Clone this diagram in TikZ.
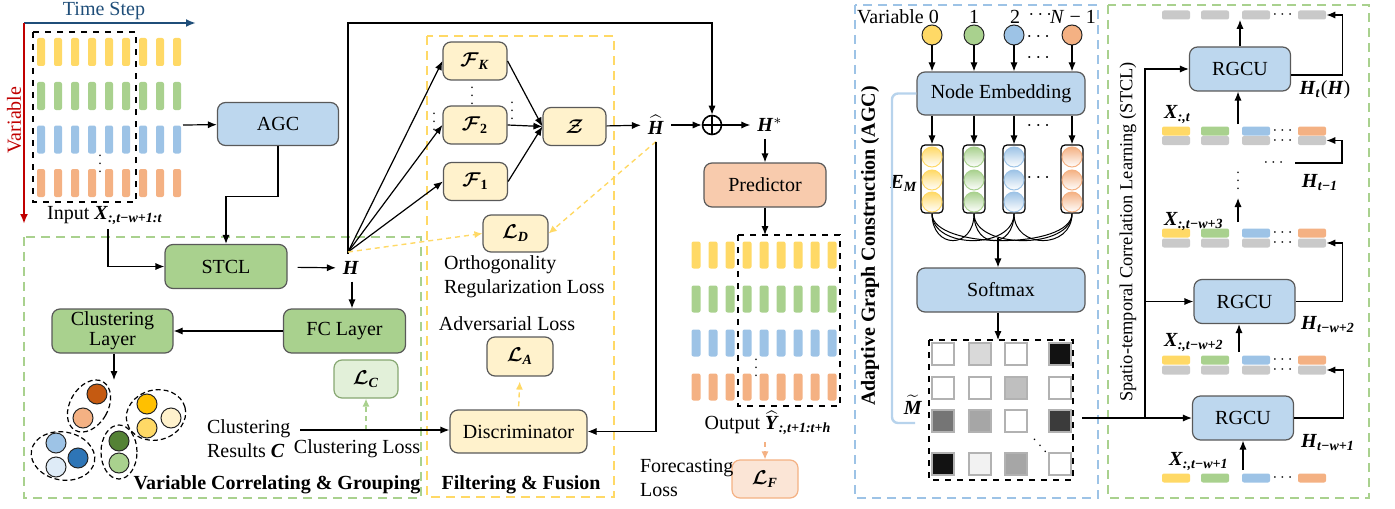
\documentclass[tikz,border=0pt]{standalone}
\usepackage{fontspec}
\setmainfont{Liberation Serif}
\usepackage{amsmath,bm}
\usetikzlibrary{arrows.meta}

\definecolor{ylw}{HTML}{FFD966}
\definecolor{grn}{HTML}{A9D18E}
\definecolor{blu}{HTML}{9DC3E6}
\definecolor{org}{HTML}{F4B183}
\definecolor{gry}{HTML}{C9C9C9}
\definecolor{agcfill}{HTML}{BDD7EE}
\definecolor{ffill}{HTML}{FFF2CC}
\definecolor{predfill}{HTML}{F8CBAD}
\definecolor{lcfill}{HTML}{E2F0D9}
\definecolor{lffill}{HTML}{FBE5D6}
\definecolor{bordr}{HTML}{595959}
\definecolor{tsblue}{HTML}{1F4E79}
\definecolor{varred}{HTML}{C00000}
\newcommand{\bi}[1]{\textbf{\textit{#1}}}

\begin{document}
\begin{tikzpicture}[x=0.5pt,y=-0.5pt,
  arr/.style={-{Latex[length=4.5pt,width=3.6pt]},line width=0.6pt},
  box/.style={draw=bordr,rounded corners=4pt,line width=0.6pt,align=center,inner sep=1pt},
  bluebox/.style={box,fill=agcfill,minimum height=21.5pt},
  grnbox/.style={box,fill=grn,minimum width=61pt,minimum height=22pt},
  fbox/.style={box,fill=ffill,minimum width=32pt,minimum height=19pt},
  panel/.style={line width=1.1pt,dash pattern=on 4.5pt off 3pt},
  dashar/.style={-{Latex[length=4pt,width=3.6pt]},line width=0.7pt,dash pattern=on 2.5pt off 2pt},
  bar/.style={rounded corners=1pt,inner sep=0pt,minimum width=4pt,minimum height=14pt},
  hbar/.style={rounded corners=1pt,inner sep=0pt,minimum width=14pt,minimum height=4.5pt},
  dot/.style={circle,draw=black!85,line width=0.5pt,minimum size=10pt,inner sep=0pt},
  cl/.style={dash pattern=on 2.5pt off 1.5pt,line width=0.6pt}]
\useasboundingbox (0,0) rectangle (1395,508);

% input series
\coordinate (orig) at (24,23);
\coordinate (tsend) at (196,23);
\coordinate (varend) at (24,224);
\draw[-{Latex[length=5pt,width=4pt]},line width=1.1pt,tsblue] (orig) -- (tsend);
\draw[-{Latex[length=5pt,width=4pt]},line width=1.1pt,varred] (orig) -- (varend);
\node[tsblue] (tslbl) at (104,11) {Time Step};
\node[varred,rotate=90] (varlbl) at (14,120) {Variable};
\foreach \y/\c in {52/ylw,96/grn,139.5/blu,183/org}
  \foreach \x in {41,58,...,177}
    \node[bar,fill=\c] at (\x,\y) {};
\draw[dashed,line width=0.6pt] (33,32) rectangle (136,202);
\node[font=\scriptsize] at (100,158) {$\vdots$};
\node (inlbl) at (105,216) {Input \bi{X}$_{\bi{:,t−w+1:t}}$};
\coordinate (inR) at (183,125);
\coordinate (inbot) at (108,229);

\node[bluebox,minimum width=60.5pt] (agc) at (278,124) {AGC};
\draw[arr] (inR) -- (agc);

% variable correlating & grouping
\draw[panel,grn] (24,237) rectangle (421,498);
\node[grnbox] (stcl) at (226,266.5) {STCL};
\draw[arr] (agc.south) -- ++(0,50) -| (stcl.north);
\draw[arr] (inbot) |- (stcl.west);
\node (hh) at (351,268) {\bi{H}};
\draw[arr,shorten <=5pt] (stcl) -- (hh);
\node[grnbox] (fc) at (344.5,331) {FC Layer};
\node[grnbox,minimum width=60.5pt] (clay) at (112.5,331) {Clustering\\[-2pt]Layer};
\draw[arr] (hh.south -| 352,0) -- (fc.north -| 352,0);
\draw[arr] (fc) -- (clay);
\coordinate (clu) at (114,380);
\draw[arr] (clay.south -| clu) -- (clu);

\draw[cl,rotate around={-30:(89,406)}] (89,406) ellipse (9.5pt and 14pt);
\draw[cl,rotate around={15:(156,415)}] (156,415) ellipse (15pt and 12.5pt);
\draw[cl,rotate around={-10:(63,456)}] (63,456) ellipse (16pt and 12pt);
\draw[cl] (119,452) ellipse (9pt and 13.5pt);
\foreach \x/\y/\c in {97/394/C55A11,83/418/F4B183,147/404/FFC000,171/418/FFF2CC,147/428/FFD966,
  56/443/9DC3E6,78/458/2E75B6,56/467/DEEBF7,119/441/548235,119/463/A9D18E}
  {\definecolor{dotc}{HTML}{\c}
   \filldraw[fill=dotc,draw=black!85,line width=0.5pt] (\x,\y) circle (5pt);}

\node[box,draw=grn!80!black,fill=lcfill,minimum width=32pt,minimum height=19pt] (lc) at (366,379) {$\bm{\mathcal{L}}_{\bi{C}}$};
\node[align=left,anchor=west] (cres) at (200,439) {Clustering\\Results \bi{C}};
\coordinate (cline) at (300,430);
\node (clloss) at (357,449) {Clustering Loss};
\draw[dashar,grn] (lc.south |- cline) -- (lc.south);
\node[font=\bfseries] (vcg) at (277,485) {Variable Correlating \& Grouping};

% filtering & fusion
\draw[panel,ylw] (427,36) rectangle (614,497);
\coordinate (fan) at (348,252);
\coordinate (top) at (348,23);
\node[fbox] (fK) at (475,61) {$\bm{\mathcal{F}}_{\bi{K}}$};
\node[fbox] (f2) at (475,125) {$\bm{\mathcal{F}}_{\textbf{2}}$};
\node[fbox] (f1) at (475.5,181.5) {$\bm{\mathcal{F}}_{\textbf{1}}$};
\node[fbox,minimum width=31.5pt] (z) at (574.5,126.5) {$\bm{\mathcal{Z}}$};
\node[font=\scriptsize] at (472,90) {$\vdots$};
\node[font=\scriptsize] at (512,105) {$\vdots$};
\node[font=\scriptsize] at (434,116) {$\vdots$};
\draw[arr] (fan) -- (fK.west);
\draw[arr] (fan) -- (f2.west);
\draw[arr] (fan) -- (f1.west);
\draw[arr] (fK.east) -- (z.west);
\draw[arr] (f2.east) -- (z.west);
\draw[arr] (f1.east) -- (z.west);
\draw[line width=0.6pt] (fan) -- (hh.north -| fan);
\node (hhat) at (656,125) {$\widehat{\bi{H}}$};
\node[circle,draw,line width=0.8pt,minimum size=9.5pt,inner sep=0pt] (oplus) at (712,125) {};
\draw[line width=0.8pt] (oplus.north) -- (oplus.south) (oplus.west) -- (oplus.east);
\node (hstar) at (770,125) {\bi{H}$^{*}$};
\draw[arr] (z) -- (hhat);
\draw[arr] (hhat) -- (oplus);
\draw[arr] (oplus) -- (hstar);
\draw[arr] (fan) -- (top) -| (oplus.north);

\node[fbox,minimum width=32.5pt,minimum height=18.5pt] (ld) at (515.5,233.5) {$\bm{\mathcal{L}}_{\bi{D}}$};
\draw[dashar,ylw] (fan) -- (ld.west);
\draw[dashar,ylw] (hhat.south) -- (ld.east);
\node[align=left,anchor=west] (olbl) at (437,277) {Orthogonality\\Regularization Loss};
\node (albl) at (507,324) {Adversarial Loss};
\node[fbox,minimum width=33pt,minimum height=19.5pt] (la) at (520,356.5) {$\bm{\mathcal{L}}_{\bi{A}}$};
\node[box,fill=ffill,minimum width=68.5pt,minimum height=21.5pt] (disc) at (518.5,431.5) {Discriminator};
\draw[dashar,ylw,shorten <=1.5pt,shorten >=2.5pt] (disc.north) -- (la.south);
\draw[arr] (hhat.south) |- (disc.east);
\draw[arr] (cline) -- (cline -| disc.west);
\node[font=\bfseries] (ffl) at (521,485) {Filtering \& Fusion};

% predictor and output
\node[box,fill=predfill,minimum width=61pt,minimum height=22pt] (pred) at (765,185) {Predictor};
\draw[arr] (pred.north |- hstar.south) -- (pred.north);
\foreach \y/\c in {255/ylw,299/grn,343/blu,387/org}
  \foreach \x in {696,713,...,832}
    \node[bar,fill=\c,minimum width=4.5pt,minimum height=13.5pt] at (\x,\y) {};
\draw[dashed,line width=0.6pt] (738,235) rectangle (840,406);
\node[font=\scriptsize] at (756,362) {$\vdots$};
\coordinate (outtop) at (765,235);
\draw[arr] (pred.south) -- (outtop);
\node (outlbl) at (768,423) {Output $\widehat{\bi{Y}}_{\bi{:,t+1:t+h}}$};
\node[box,draw=org,fill=lffill,minimum width=33pt,minimum height=19pt] (lf) at (765,479) {$\bm{\mathcal{L}}_{\bi{F}}$};
\draw[dashar,org] (outlbl.south -| lf) -- (lf.north);
\node[align=left,anchor=west] (fclbl) at (633,478) {Forecasting\\Loss};

% adaptive graph construction
\draw[panel,blu] (855,5) rectangle (1098,498);
\node[font=\bfseries,rotate=90] (agct) at (870,246) {Adaptive Graph Construction (AGC)};
\node (vl0) at (898,17) {Variable 0};
\node (vl1) at (974,17) {1};
\node (vl2) at (1015,17) {2};
\node (vl3) at (1073,17) {\textit{N} − 1};
\node at (1042,15) {$\cdots$};
\node at (1040,37) {$\cdots$};
\node at (1040,58) {$\cdots$};
\node at (1040,126) {$\cdots$};
\node at (1040,178) {$\cdots$};
\node[bluebox,minimum width=84pt] (ne) at (1001,93.5) {Node Embedding};
\node[bluebox,minimum width=84pt,minimum height=22pt] (sm) at (1001,290) {Softmax};
\foreach \x/\c [count=\k from 0] in {932/ylw,974/grn,1014/blu,1072/org} {
  \node[dot,fill=\c] (v\k) at (\x,35) {};
  \node[draw,rounded corners=2pt,line width=0.6pt,minimum width=11pt,minimum height=34pt,inner sep=0pt] (e\k) at (\x,179) {};
  \foreach \y in {157,180,202}
    \shadedraw[top color=\c,bottom color=white,draw=\c,line width=0.5pt] (\x,\y) circle (5pt);
  \draw[arr] (v\k) -- (v\k |- ne.north);
  \draw[arr] (v\k |- ne.south) -- (e\k.north);
}
\foreach \i in {0,...,3}
  \foreach \j in {0,...,3}
    {\ifnum\i<\j \draw[line width=0.5pt] (e\i.south) .. controls +(0,36) and +(0,36) .. (e\j.south);\fi}
\coordinate (junc) at (998,238);
\draw[arr] (junc) -- (junc |- sm.north);
\node (em) at (904,183) {\bi{E}$_{\bi{M}}$};
\coordinate (mtop) at (998,340);
\draw[arr] (sm.south -| mtop) -- (mtop);
\foreach \x/\y/\g in {943/354/0,980/354/15,1016/354/0,1060/354/93,
  943/388/0,980/388/0,1016/388/25,1060/388/0,
  943/421/54,980/421/35,1016/421/0,1060/421/77,
  943/464/93,980/464/5,1016/464/35,1060/464/0}
  \filldraw[fill=black!\g,draw=black!30,line width=1pt] (\x-11,\y-11) rectangle (\x+11,\y+11);
\draw[dashed,line width=0.6pt] (929,340) rectangle (1073,480);
\node[font=\scriptsize] at (1040,440) {$\ddots$};
\node (mt) at (913,405) {$\widetilde{\bi{M}}$};
\coordinate (brk) at (915,423);
\draw[agcfill!80!blu,line width=1.2pt,rounded corners=3pt] (ne.west) -| (892,423) -- (brk);

% spatio-temporal correlation learning
\draw[panel,grn] (1108,5) rectangle (1369,498);
\node[rotate=90,font=\fontsize{9.2}{11}\selectfont] (stclt) at (1128,232) {Spatio-temporal Correlation Learning (STCL)};
\node[bluebox,minimum width=50.5pt,minimum height=22pt] (rg3) at (1240,69) {RGCU};
\node[bluebox,minimum width=50.5pt,minimum height=22pt] (rg2) at (1244.5,301.5) {RGCU};
\node[bluebox,minimum width=50.5pt,minimum height=22pt] (rg1) at (1243,418) {RGCU};
\foreach \y/\n in {131/xt,233/xa,360/xb,478/xc}
  \foreach \x/\c [count=\k] in {1176/ylw,1215/grn,1256/blu,1312/org}
    \node[hbar,fill=\c] (\n\k) at (\x,\y) {};
\foreach \y/\n in {15/gt,140.5/gxt,243/gxa,370/gxb}
  \foreach \x [count=\k] in {1176,1215,1256,1312}
    \node[hbar,fill=gry] (\n\k) at (\x,\y) {};
\foreach \y in {15,131,140.5,233,243,360,370,478}
  \node[font=\footnotesize] at (1284,\y) {$\cdots$};
\node[anchor=west] (lxt) at (1157,115) {\bi{X}$_{\bi{:,t}}$};
\node[anchor=west] (lxa) at (1157,222) {\bi{X}$_{\bi{:,t−w+3}}$};
\node[anchor=west] (lxb) at (1157,343) {\bi{X}$_{\bi{:,t−w+2}}$};
\node[anchor=west] (lxc) at (1162,462) {\bi{X}$_{\bi{:,t−w+1}}$};
\node (ht) at (1325,90) {\bi{H}$_{\bi{t}}$(\bi{H})};
\node (htm) at (1320,183) {\bi{H}$_{\bi{t−1}}$};
\node (hb) at (1328,325) {\bi{H}$_{\bi{t−w+2}}$};
\node (hc) at (1328,443) {\bi{H}$_{\bi{t−w+1}}$};
\node[font=\scriptsize] at (1238,175) {$\vdots$};
\node[font=\footnotesize] at (1275,163) {$\cdots$};
\coordinate (ut) at (1238,124);
\coordinate (ua0) at (1238,222);
\coordinate (ua1) at (1238,198);
\coordinate (ub) at (1239,352);
\coordinate (uc) at (1243,470);
\coordinate (hm1) at (1295,163);
\coordinate (mout) at (1082,418);
\coordinate (sp1) at (1145,418);
\draw[arr] (rg3.north) -- (rg3.north |- gt3.south);
\draw[arr] ([yshift=-3pt]rg3.east) -- ++(51,0) |- (gt4.east);
\draw[arr] (ut) -- (ut |- rg3.south);
\draw[arr] (hm1) -- ++(47,0) |- (gxt4.east);
\draw[arr] (ua0) -- (ua1);
\draw[arr] (rg2.east) -- ++(47,0) |- (gxa4.east);
\draw[arr] (ub) -- (ub |- rg2.south);
\draw[arr] (rg1.east) -- ++(49,0) |- (gxb4.east);
\draw[arr] (uc) -- (uc |- rg1.south);
\draw[arr] (mout) -- (rg1.west);
\draw[arr] (sp1) |- (rg2.west);
\draw[arr] (sp1) |- (rg3.west);
\end{tikzpicture}
\end{document}
